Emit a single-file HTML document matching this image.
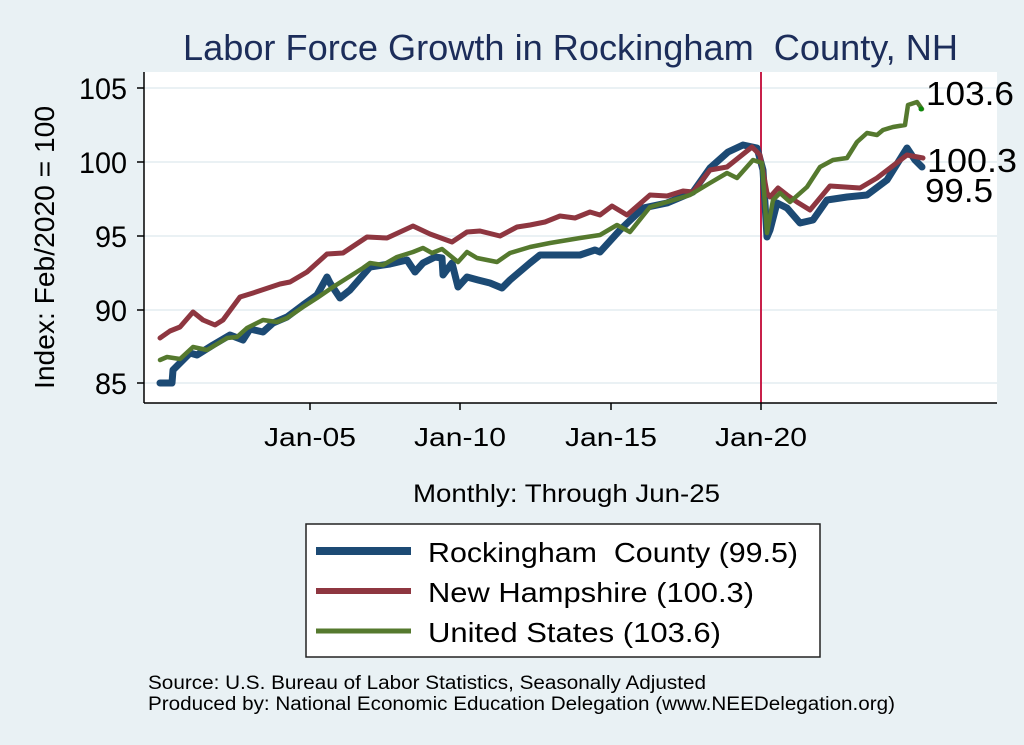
<!DOCTYPE html>
<html><head><meta charset="utf-8"><style>
html,body{margin:0;padding:0;background:#e9f1f4;}
svg{display:block;font-family:"Liberation Sans",Arial,sans-serif;}
</style></head><body>
<svg width="1024" height="745" viewBox="0 0 1024 745" xmlns="http://www.w3.org/2000/svg" xml:space="preserve">
<rect width="1024" height="745" fill="#e9f1f4"/>
<text x="183" y="60" font-size="36" fill="#1c2d5a" textLength="775" lengthAdjust="spacingAndGlyphs">Labor Force Growth in Rockingham&#160;&#160;County, NH</text>
<rect x="144" y="72" width="853" height="331" fill="#fff"/>
<g stroke="#eaf1f4" stroke-width="2">
<line x1="144" y1="88" x2="997" y2="88"/><line x1="144" y1="162" x2="997" y2="162"/>
<line x1="144" y1="236" x2="997" y2="236"/><line x1="144" y1="310" x2="997" y2="310"/>
<line x1="144" y1="383" x2="997" y2="383"/>
</g>
<line x1="761" y1="72" x2="761" y2="403" stroke="#c8204a" stroke-width="2"/>
<g fill="none" stroke-linejoin="round" stroke-linecap="round">
<polyline stroke="#1c4a74" stroke-width="7" points="160,383 172,383 173,370 190,353 197,355 213,345 230,335 243,340 250,329 263,332 273,323 287,317 303,305 317,295 327,277 330,283 340,298 350,290 370,267 390,264 407,260 415,272 423,263 435,257 442,258 443,275 452,263 458,287 467,277 478,280 490,283 502,288 510,280 530,263 540,255 560,255 580,255 595,250 600,252 620,230 643,208 667,203 693,192 710,168 728,152 743,145 757,148 763,170 767,237 770,230 777,203 787,208 800,223 813,220 827,200 847,197 867,195 887,180 907,148 915,160 922,167"/>
<polyline stroke="#8e3640" stroke-width="5" points="160,338 170,331 180,327 193,312 203,320 215,325 223,320 240,297 253,293 280,284 290,282 307,272 327,254 343,253 367,237 387,238 413,226 430,234 452,242 467,232 480,231 500,236 517,227 530,225 545,222 560,216 575,218 590,212 600,215 612,206 627,215 650,195 667,196 683,191 693,192 710,170 727,167 752,147 760,155 767,193 770,197 778,188 787,195 797,202 810,210 830,186 860,188 877,178 907,155 923,158"/>
<polyline stroke="#55792e" stroke-width="4.5" points="160,360 167,357 180,359 193,347 207,350 227,338 237,337 247,328 263,320 277,322 287,318 303,307 317,298 333,287 363,268 370,263 383,265 397,257 413,252 423,248 432,253 442,249 458,262 467,252 477,258 497,262 510,253 530,247 550,243 580,238 600,235 617,225 630,232 650,207 667,202 690,195 710,183 727,173 737,178 753,160 762,163 767,233 773,200 780,193 790,202 807,187 820,167 833,160 847,158 857,142 867,133 877,135 883,130 893,127 905,125 908,105 917,102 922,109"/>
</g>
<circle cx="921" cy="109" r="2.5" fill="#0a8a0a"/>
<g stroke="#000" stroke-width="1.5">
<line x1="144" y1="72" x2="144" y2="403"/><line x1="144" y1="403" x2="997" y2="403"/>
<line x1="137" y1="88" x2="144" y2="88"/><line x1="137" y1="162" x2="144" y2="162"/>
<line x1="137" y1="236" x2="144" y2="236"/><line x1="137" y1="310" x2="144" y2="310"/>
<line x1="137" y1="383" x2="144" y2="383"/>
<line x1="310" y1="403" x2="310" y2="410"/><line x1="460" y1="403" x2="460" y2="410"/>
<line x1="611" y1="403" x2="611" y2="410"/><line x1="761" y1="403" x2="761" y2="410"/>
</g>
<g font-size="30" fill="#000">
<text x="79" y="99" textLength="48" lengthAdjust="spacingAndGlyphs">105</text>
<text x="79" y="173" textLength="48" lengthAdjust="spacingAndGlyphs">100</text>
<text x="95" y="247" textLength="32" lengthAdjust="spacingAndGlyphs">95</text>
<text x="95" y="321" textLength="32" lengthAdjust="spacingAndGlyphs">90</text>
<text x="95" y="394" textLength="32" lengthAdjust="spacingAndGlyphs">85</text>
</g>
<g font-size="26" fill="#000">
<text x="264" y="446" textLength="92" lengthAdjust="spacingAndGlyphs">Jan-05</text>
<text x="414" y="446" textLength="92" lengthAdjust="spacingAndGlyphs">Jan-10</text>
<text x="565" y="446" textLength="92" lengthAdjust="spacingAndGlyphs">Jan-15</text>
<text x="715" y="446" textLength="92" lengthAdjust="spacingAndGlyphs">Jan-20</text>
<text x="413" y="502" font-size="25" textLength="307" lengthAdjust="spacingAndGlyphs">Monthly: Through Jun-25</text>
</g>
<text transform="translate(54,389) rotate(-90)" font-size="28" textLength="283" lengthAdjust="spacingAndGlyphs">Index: Feb/2020 = 100</text>
<g font-size="33" fill="#000">
<text x="926" y="105" textLength="88" lengthAdjust="spacingAndGlyphs">103.6</text>
<text x="927" y="172" textLength="90" lengthAdjust="spacingAndGlyphs">100.3</text>
<text x="925" y="202" textLength="68" lengthAdjust="spacingAndGlyphs">99.5</text>
</g>
<rect x="306" y="524" width="514" height="133" fill="#fff" stroke="#222" stroke-width="1.5"/>
<line x1="316" y1="551" x2="411" y2="551" stroke="#1c4a74" stroke-width="8"/>
<line x1="316" y1="591" x2="411" y2="591" stroke="#8e3640" stroke-width="6"/>
<line x1="316" y1="631" x2="411" y2="631" stroke="#55792e" stroke-width="5"/>
<g font-size="28" fill="#000">
<text x="428" y="562" textLength="370" lengthAdjust="spacingAndGlyphs">Rockingham&#160;&#160;County (99.5)</text>
<text x="428" y="602" textLength="326" lengthAdjust="spacingAndGlyphs">New Hampshire (100.3)</text>
<text x="428" y="642" textLength="293" lengthAdjust="spacingAndGlyphs">United States (103.6)</text>
</g>
<g font-size="19" fill="#000">
<text x="148" y="689" textLength="558" lengthAdjust="spacingAndGlyphs">Source: U.S. Bureau of Labor Statistics, Seasonally Adjusted</text>
<text x="148" y="710" textLength="747" lengthAdjust="spacingAndGlyphs">Produced by: National Economic Education Delegation (www.NEEDelegation.org)</text>
</g>
</svg>
</body></html>
